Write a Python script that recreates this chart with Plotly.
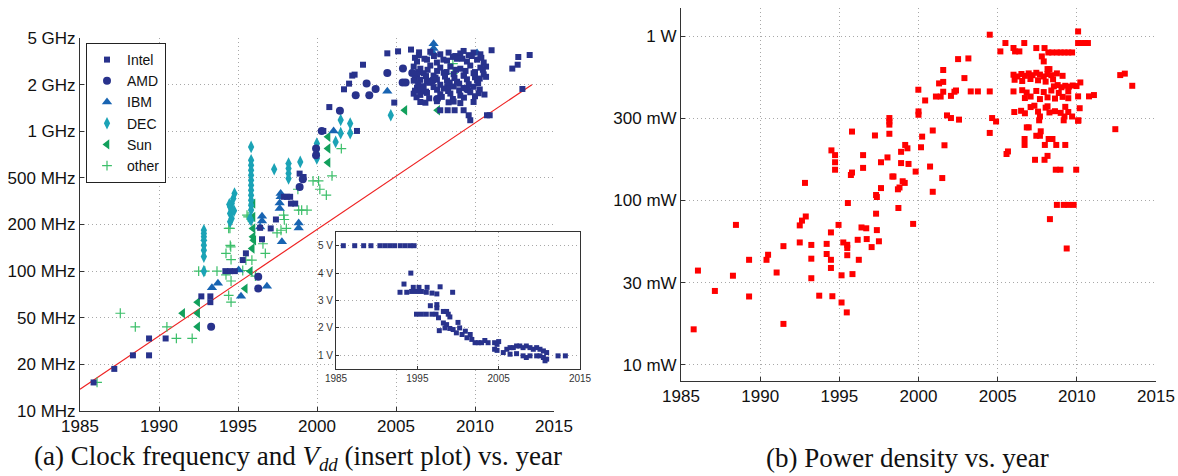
import plotly.graph_objects as go

# ---------------- Panel (a): clock frequency (MHz) vs year ----------------
intel_year = [1985.86, 1987.17, 1988.35, 1989.37, 1989.37, 1990.42, 1992.68, 1993.25, 1993.25,
              1994.2, 1994.5, 1994.8, 1995.3, 1995.5, 1996.4, 1996.52, 1997.07, 1997.4, 1997.9,
              1998.1, 1998.35, 1998.62, 1998.3, 1998.9, 1999.15, 2000.4, 2000.78, 2001.71,
              2002.03, 2002.23, 2002.38, 2002.53, 2002.91, 2004.45, 2004.89, 2005.13, 2005.95, 2006.46,
              2006.45, 2007.17, 2007.8, 2008.33, 2008.75, 2009.07, 2009.28, 2009.6, 2009.91, 2010.34,
              2006.2, 2006.8, 2007.4, 2008.0, 2008.6, 2009.2, 2009.8, 2010.4,
              2006.33, 2006.96, 2007.59, 2008.23, 2008.86, 2009.49, 2010.13, 2010.55,
              2006.12, 2006.54, 2007.17, 2007.8, 2008.44, 2009.07, 2009.7, 2010.34, 2010.7,
              2006.4, 2007.0, 2007.6, 2008.2, 2008.8, 2009.4, 2010.0, 2010.5,
              2006.33, 2006.75, 2007.38, 2008.02, 2008.65, 2009.28, 2009.91, 2010.55, 2010.7,
              2006.2, 2006.9, 2007.5, 2008.1, 2008.7, 2009.3, 2010.0, 2010.3,
              2006.12, 2006.54, 2006.96, 2007.59, 2008.23, 2008.86, 2009.49, 2010.13,
              2006.4, 2007.1, 2007.8, 2008.4, 2009.0, 2009.6, 2010.2,
              2006.33, 2006.75, 2007.38, 2008.02, 2008.65, 2009.28, 2009.91,
              2006.2, 2006.9, 2007.6, 2008.3, 2009.0, 2009.7, 2010.3,
              2006.12, 2006.54, 2006.96, 2007.8, 2008.44, 2009.07, 2010.23, 2010.6,
              2006.3, 2007.1, 2007.9, 2008.6, 2009.3, 2010.0,
              2006.54, 2006.86, 2007.59, 2008.33, 2008.65, 2009.07, 2009.91,
              2007.8, 2008.27, 2008.71, 2009.28, 2009.6, 2010.76, 2010.93, 2009.7,
              2011.05, 2012.74, 2012.7, 2012.36, 2013.46, 2013.0]
intel_mhz = [16, 20, 25, 25, 33, 33, 66, 66, 60,
             100, 100, 100, 120, 134, 204, 169, 202, 234, 340,
             340, 304, 304, 340, 498, 471, 1005, 1489, 1995,
             2190, 2500, 2540, 1005, 2990, 3606, 1603, 3727, 3837, 3664,
             3500, 3700, 3550, 3650, 3450, 3600, 3750, 3500, 3650, 3550,
             3350, 3300, 3450, 3250, 3400, 3300, 3450, 3350,
             3150, 3250, 3100, 3200, 3300, 3150, 3250, 3100,
             2900, 2800, 2950, 2850, 2900, 2800, 2950, 2850, 2900,
             2650, 2750, 2700, 2650, 2750, 2700, 2650, 2750,
             2550, 2600, 2500, 2620, 2560, 2500, 2600, 2550, 2450,
             2400, 2480, 2420, 2460, 2400, 2500, 2430, 2380,
             2300, 2330, 2280, 2340, 2300, 2260, 2350, 2310,
             2180, 2220, 2150, 2230, 2190, 2170, 2210,
             2050, 2100, 2070, 2020, 2090, 2040, 2080,
             1950, 1920, 1980, 1940, 1960, 1900, 1990,
             1857, 1820, 1880, 1840, 1860, 1800, 1870, 1830,
             1750, 1720, 1760, 1700, 1740, 1780,
             1619, 1600, 1640, 1610, 1630, 1590, 1620,
             1413, 1413, 1413, 1413, 1301, 1301, 1301, 1199,
             3795, 3395, 2990, 2806, 3510, 2006]

amd_year = [1993.3, 1996.28, 1996.28, 1998.9, 1999.1, 1999.94, 1999.94, 2000.3, 2001.45,
            2002.45, 2003.14, 2003.31, 2003.71, 2004.45, 2005.42, 2005.61, 2005.44, 2006.03,
            2006.5, 2007.3, 2007.6, 2008.3, 2009.5]
amd_mhz = [40, 91, 75, 400, 454, 752, 673, 1005, 1400,
           1807, 2193, 1807, 2005, 2612, 2228, 2228, 2806, 2612,
           2000, 2300, 1700, 2100, 2000]

ibm_year = [1993.35, 1993.73, 1995.04, 1995.19, 1996.83, 1996.52, 1996.52, 1996.4, 1997.64,
            1997.64, 1997.7, 1997.7, 1997.78, 1998.84, 1998.84, 2001.05, 2004.45, 2007.38,
            2007.38, 2007.38, 2010.13]
ibm_mhz = [76, 82, 102, 66, 78, 247, 228, 207, 307,
           280, 359, 340, 162, 221, 203, 1005, 1931, 4227,
           3901, 3590, 3630]

dec_year = [1992.84, 1992.84, 1992.84, 1992.84, 1992.84, 1992.84, 1992.84, 1992.84,
            1994.78, 1994.7, 1994.6, 1994.5, 1994.6, 1994.5, 1994.6, 1994.5, 1994.45, 1994.75,
            1995.83, 1995.83, 1995.83, 1995.83, 1995.83, 1995.83, 1995.83, 1995.83, 1995.83,
            1995.83, 1995.83, 1995.83, 1995.83, 1995.75,
            1997.29, 1998.2, 1998.2, 1998.2, 1998.2, 1998.94, 1999.99, 1999.99, 1999.99, 1999.99,
            2001.18, 2001.5, 2001.5, 2002.1, 2002.1, 2004.67]
dec_mhz = [196, 186, 176, 166, 153, 141, 127, 100,
           359, 330, 304, 288, 273, 258, 238, 225, 300, 270,
           773, 621, 571, 526, 485, 446, 411, 379, 349,
           321, 296, 273, 231, 237,
           535, 587, 541, 499, 459, 604, 817, 752, 692, 638,
           839, 1204, 969, 1135, 969, 1301]

sun_year = [1991.5, 1992.45, 1992.45, 1992.45, 1995.46, 1995.78, 1995.95, 1995.95, 1995.95,
            1995.95, 1995.9, 1996.0, 2000.7, 2000.7, 2000.7, 2005.56, 2007.64]
sun_mhz = [50, 60, 50, 40, 75, 100, 304, 244, 202,
           176, 145, 166, 912, 752, 597, 1413, 1413]

other_year = [1986.08, 1987.55, 1988.5, 1990.5, 1991.1, 1992.1, 1992.51, 1992.9, 1993.67,
              1994.24, 1994.51, 1994.56, 1994.24, 1994.56, 1994.41, 1994.56, 1994.49, 1994.54,
              1995.5, 1995.88, 1996.1, 1996.73, 1996.58, 1997.47, 1997.89, 1998.06, 1998.84,
              1999.37, 1994.41, 1995.57, 1995.64, 1997.93, 1997.72, 1998.79, 1999.75, 2000.1,
              2000.18, 2000.59, 2000.95, 2001.54, 2008.6, 2008.6, 1999.03, 1995.3]
other_mhz = [16, 50, 40, 40, 33, 33, 100, 100, 100,
             134, 153, 121, 94, 85, 67, 60, 202, 149,
             120, 120, 92, 134, 157, 188, 251, 202, 273,
             273, 202, 251, 244, 234, 196, 385, 442, 442,
             385, 349, 480, 752, 3040, 2582, 273, 101]

trend_year = [1985.0, 2013.6]
trend_mhz = [14.3, 2154]

freq_tick_vals = [10, 21.54, 46.42, 100, 215.4, 464.2, 1000, 2154, 4642]
freq_tick_text = ["10 MHz", "20 MHz", "50 MHz", "100 MHz", "200 MHz", "500 MHz",
                  "1 GHz", "2 GHz", "5 GHz"]
year_ticks = [1985, 1990, 1995, 2000, 2005, 2010, 2015]

# ---------------- Inset: Vdd vs year ----------------
vdd_year = [1985.9, 1987.3, 1988.4, 1989.3, 1990.4, 1991.0, 1991.6, 1992.2, 1992.9, 1993.5,
            1994.1, 1994.6, 1994.2, 1993.36, 1992.87, 1993.7, 1994.3, 1994.9, 1995.5, 1996.1,
            1996.8, 1997.4, 1994.5, 1995.2, 1996.2, 1997.8, 1999.34,
            1994.9, 1995.5, 1996.1, 1996.8, 1997.3, 1996.6, 1997.4, 1997.4, 1997.6, 1997.7,
            1998.2, 1998.6, 1998.8, 1999.0, 1998.2, 1998.6, 1998.4, 1999.0, 1999.4,
            2000.0, 2000.2, 1999.8, 2000.5, 2000.9, 2001.1, 2001.5, 2001.7, 2002.1,
            2002.5, 2002.9, 2003.3, 2003.7, 2004.5, 2004.8, 2005.0, 2004.5, 2004.8,
            2005.57, 2006.0, 2006.4, 2006.8, 2007.2, 2007.6, 2008.0, 2008.4, 2008.85, 2009.26,
            2009.67, 2010.08, 2010.5, 2010.9,
            2006.4, 2007.2, 2008.0, 2008.85, 2009.67, 2010.5, 2010.9, 2008.4, 2010.08,
            2012.3, 2013.2, 2010.7]
vdd_volt = [5, 5, 5, 5, 5, 5, 5, 5, 5, 5,
            5, 5, 4.0, 3.6, 3.3, 3.3, 3.33, 3.33, 3.33, 3.3,
            3.27, 3.24, 3.48, 3.48, 3.48, 3.5, 3.3,
            2.5, 2.5, 2.5, 2.5, 2.5, 2.81, 2.85, 2.73, 2.37, 1.9,
            2.6, 2.6, 2.5, 2.4, 2.18, 2.12, 2.0, 1.98, 1.94,
            2.2, 2.0, 1.82, 1.76, 1.88, 1.64, 1.76, 1.58, 1.46,
            1.46, 1.46, 1.54, 1.46, 1.46, 1.4, 1.5, 1.22, 1.18,
            1.1, 1.22, 1.28, 1.28, 1.34, 1.34, 1.28, 1.34, 1.28, 1.22,
            1.28, 1.22, 1.16, 1.1,
            1.04, 1.06, 0.98, 0.98, 0.98, 0.92, 0.86, 0.92, 0.98,
            0.98, 0.98, 0.8]
vdd_tick_vals = [1, 2, 3, 4, 5]
vdd_tick_text = ["1 V", "2 V", "3 V", "4 V", "5 V"]
inset_year_ticks = [1985, 1995, 2005, 2015]

# ---------------- Panel (b): power density (mW) vs year ----------------
power_year = [1985.8, 1986.07, 1987.14, 1988.28, 1988.47, 1989.3, 1989.3, 1990.4, 1990.5, 1991.04,
              1991.47, 1991.47, 1992.5, 1992.5, 1992.64, 1992.88, 1992.83, 1993.23, 1993.23, 1993.23,
              1993.73, 1994.2, 1994.2, 1994.47, 1994.47, 1994.47, 1994.56, 1994.5, 1994.73, 1994.73,
              1994.73, 1994.95, 1995.14, 1995.14, 1995.25, 1995.5, 1995.5, 1995.5, 1995.47, 1995.54,
              1995.73, 1995.8, 1995.8, 1995.83, 1996.16, 1996.23, 1996.4, 1996.7, 1996.5, 1996.5,
              1996.73, 1997.04, 1997.25, 1997.32, 1997.37, 1997.32, 1997.37, 1997.5, 1997.63, 1997.63,
              1998.04, 1998.16, 1998.16, 1998.16, 1998.16, 1998.35, 1998.42, 1998.7, 1998.8, 1998.73,
              1998.9, 1998.9, 1999.0, 1999.13, 1999.16, 1999.3, 1999.37, 1999.66, 1999.82, 1999.99,
              2000.0, 2000.0, 2000.16, 2000.23, 2000.42, 2000.73, 2000.9, 2000.9, 2001.1, 2001.3,
              2001.4, 2001.56, 2001.56, 2001.56, 2001.5, 2001.64, 2001.8, 2002.05, 2002.05, 2002.27,
              2002.37, 2002.5, 2002.56, 2002.9, 2003.15, 2003.3, 2003.75, 2004.5, 2004.5, 2004.5,
              2004.65, 2004.9, 2005.17, 2005.49, 2005.56, 2005.65, 2006.0, 2006.1, 2006.37, 2006.68,
              2006.0, 2006.25, 2006.5, 2006.72, 2006.96, 2007.2, 2007.44, 2007.67, 2007.91, 2008.15,
              2008.39, 2008.74, 2009.1,
              2006.07, 2006.55, 2007.07, 2007.55, 2008.03, 2008.5,
              2008.55, 2008.79, 2009.03, 2009.27, 2009.5, 2009.74, 2009.98,
              2006.0, 2006.55, 2006.83, 2007.44, 2007.91, 2008.39, 2008.86, 2009.46,
              2006.72, 2007.08, 2007.67, 2008.15, 2008.62, 2009.1, 2009.46,
              2007.08, 2007.32, 2008.03, 2008.15, 2009.27,
              2006.05, 2006.48, 2006.72, 2007.55, 2008.27, 2008.62, 2008.98, 2009.46,
              2007.67, 2009.22, 2009.7, 2007.62, 2009.17, 2010.1,
              2006.84, 2006.96, 2007.72, 2007.44, 2007.67, 2006.7, 2008.22, 2008.46,
              2006.7, 2007.98, 2008.7, 2009.27, 2008.15, 2007.36, 2007.96,
              2008.67, 2008.96, 2009.96, 2007.79, 2007.91, 2007.44, 2007.96,
              2008.2, 2008.44, 2008.74, 2008.98, 2009.22, 2009.46, 2009.7,
              2008.15, 2008.27, 2008.74, 2009.17, 2009.46, 2009.8, 2008.3, 2009.36,
              2010.08, 2010.08, 2010.3, 2010.53, 2010.7, 2010.22, 2010.08, 2010.18, 2010.08,
              2010.77, 2011.08, 2012.43, 2012.74, 2013.03, 2013.5]
power_mw = [16.4, 37.4, 28.1, 34.8, 71, 43.5, 26, 43.5, 46.7, 36.4,
            17.7, 52.7, 70.5, 55.5, 75.4, 79.9, 128, 53.6, 44.2, 33.6,
            26.3, 54.4, 47.2, 43.5, 63.9, 38.8, 26.1, 202, 189, 171,
            154, 71, 35, 23.9, 55.5, 53.7, 51.3, 46.4, 20.8, 96.5,
            143, 148, 263, 35.6, 57.6, 43.5, 68.5, 67.7, 189, 158,
            58.2, 52, 249, 108, 105, 83.1, 66, 56.4, 171, 119,
            183, 318, 303, 290, 255, 140, 140, 117, 120, 90,
            198, 169, 131, 128, 218, 208, 167, 72, 150, 473,
            349, 333, 211, 245, 407, 161, 267, 113, 430, 517,
            430, 528, 460, 624, 137, 217, 330, 318, 434, 460,
            468, 727, 311, 557, 734, 462, 462, 1024, 462, 258,
            318, 303, 810, 911, 192, 199, 850, 810, 810, 911,
            584, 570, 590, 575, 595, 580, 600, 585, 570, 590,
            580, 595, 575,
            544, 535, 550, 540, 530, 548,
            496, 505, 490, 500, 494, 502, 498,
            462, 470, 455, 465, 458, 468, 452, 462,
            421, 430, 415, 425, 418, 428, 420,
            371, 378, 368, 375, 372,
            346, 352, 340, 348, 344, 350, 342, 346,
            325, 325, 325, 308, 308, 308,
            279, 279, 264, 248, 248, 237, 237, 237,
            218, 218, 218, 218, 187, 177, 177,
            154, 154, 154, 755, 704, 849, 849,
            798, 798, 798, 798, 798, 798, 798,
            632, 632, 94, 94, 94, 94, 77, 51,
            1072, 911, 911, 911, 911, 524, 431, 365, 306,
            431, 439, 272, 581, 593, 500]
power_tick_vals = [10, 31.62, 100, 316.2, 1000]
power_tick_text = ["10 mW", "30 mW", "100 mW", "300 mW", "1 W"]

# ---------------- styling ----------------
NAVY = "#28328c"
GRID = "#a8a8a8"
GRIDDASH = "1px,3px"
SANS = "Liberation Sans, Arial, sans-serif"
SERIF = "Liberation Serif, DejaVu Serif, serif"
TICKFONT = dict(family=SANS, size=17, color="#111")

fig = go.Figure()

def scat(x, y, name, symbol, size, color, xa="x", ya="y", legend=True, line=None):
    marker = dict(symbol=symbol, size=size, color=color, line=dict(width=0))
    if line is not None:
        marker["line"] = line
    fig.add_trace(go.Scatter(x=x, y=y, mode="markers", name=name, marker=marker,
                             xaxis=xa, yaxis=ya, showlegend=legend, hoverinfo="skip"))

fig.add_trace(go.Scatter(x=trend_year, y=trend_mhz, mode="lines", line=dict(color="#ee2222", width=1.2),
                         showlegend=False, xaxis="x", yaxis="y", hoverinfo="skip"))
scat(other_year, other_mhz, "other", "cross-thin", 7, "#3cbf6a", line=dict(width=1.2, color="#3cbf6a"))
scat(sun_year, sun_mhz, "Sun", "triangle-left", 9, "#12a05c")
scat(dec_year, dec_mhz, "DEC", "diamond-tall", 9, "#1ba3b6")
scat(ibm_year, ibm_mhz, "IBM", "triangle-up", 9, "#1864b2")
scat(amd_year, amd_mhz, "AMD", "circle", 8, NAVY)
scat(intel_year, intel_mhz, "Intel", "square", 6, NAVY)

scat(power_year, power_mw, "power", "square", 6, "#ff0000", xa="x2", ya="y2", legend=False)
scat(vdd_year, vdd_volt, "Vdd", "square", 5, NAVY, xa="x3", ya="y3", legend=False)

order = {"Intel": 1, "AMD": 2, "IBM": 3, "DEC": 4, "Sun": 5, "other": 6}
for tr in fig.data:
    if tr.name in order:
        tr.legendrank = order[tr.name]

W, H = 1178, 476
def px(x0, x1):
    return [x0 / W, x1 / W]
def py(top, bottom):
    return [1 - bottom / H, 1 - top / H]

common_axis = dict(showline=True, linecolor="#333", linewidth=1, ticks="inside", ticklen=4,
                   tickcolor="#333", showgrid=True, gridcolor=GRID, griddash=GRIDDASH, gridwidth=1,
                   zeroline=False, tickfont=TICKFONT, automargin=False)
inset_axis = dict(showline=True, mirror=True, linecolor="#333", linewidth=1, ticks="inside", ticklen=3,
                  tickcolor="#333", showgrid=True, gridcolor=GRID, griddash=GRIDDASH, zeroline=False,
                  automargin=False, tickfont=dict(family=SANS, size=10, color="#333"))

fig.update_layout(
    width=W, height=H, autosize=False,
    margin=dict(l=0, r=0, t=0, b=0, autoexpand=False),
    paper_bgcolor="white", plot_bgcolor="white",
    xaxis=dict(domain=px(80, 554), range=[1985, 2015], tickvals=year_ticks, anchor="y", **common_axis),
    yaxis=dict(domain=py(38, 411), type="log", range=[1, 3.6667], tickvals=freq_tick_vals,
               ticktext=freq_tick_text, anchor="x", **common_axis),
    xaxis2=dict(domain=px(681, 1156), range=[1985, 2015], tickvals=year_ticks, anchor="y2", **common_axis),
    yaxis2=dict(domain=py(8, 381), type="log", range=[0.9, 3.173], tickvals=power_tick_vals,
                ticktext=power_tick_text, anchor="x2", **common_axis),
    xaxis3=dict(domain=px(336, 580), range=[1985, 2015], tickvals=inset_year_ticks, anchor="y3",
                **inset_axis),
    yaxis3=dict(domain=py(232, 369), range=[0.5, 5.5], tickvals=vdd_tick_vals, ticktext=vdd_tick_text,
                anchor="x3", **inset_axis),
    legend=dict(x=86 / W, y=1 - 43 / H, xanchor="left", yanchor="top", bgcolor="white",
                bordercolor="#222", borderwidth=1,
                font=dict(family=SANS, size=14, color="#111"),
                tracegroupgap=0, itemsizing="trace"),
    annotations=[
        dict(text="(a) Clock frequency and <i>V</i><sub><i>dd</i></sub> (insert plot) vs. year",
             x=298 / W, y=1 - 458 / H, xref="paper", yref="paper", showarrow=False,
             xanchor="center", yanchor="middle",
             font=dict(family=SERIF, size=27, color="#111")),
        dict(text="(b) Power density vs. year",
             x=907 / W, y=1 - 458 / H, xref="paper", yref="paper", showarrow=False,
             xanchor="center", yanchor="middle",
             font=dict(family=SERIF, size=27, color="#111")),
    ],
)

fig.write_html("out.html")
